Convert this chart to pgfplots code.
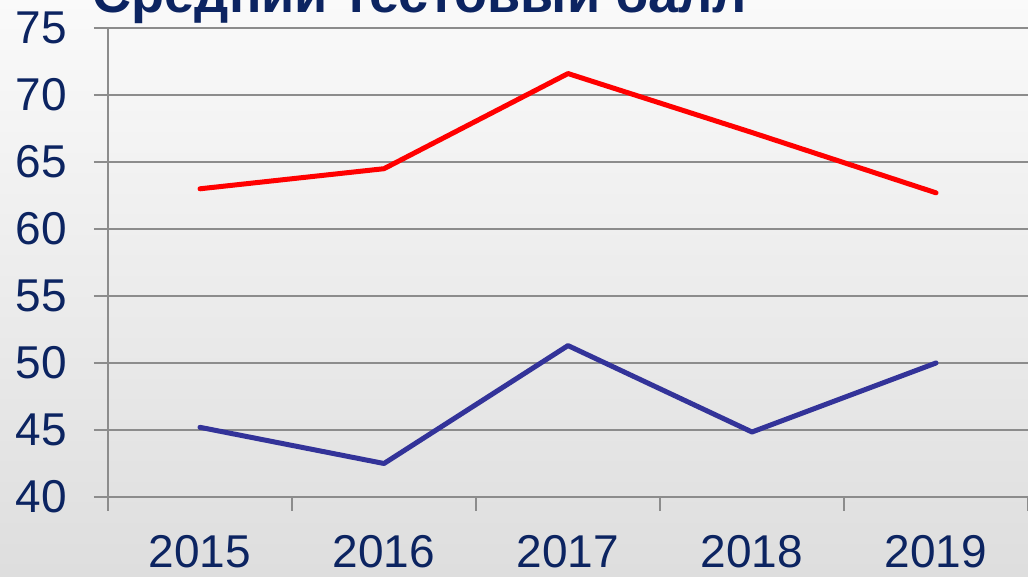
\documentclass[border=0pt]{standalone}
\usepackage{fontspec}
\setmainfont{Liberation Sans}
\usepackage{pgfplots}
\pgfplotsset{compat=1.18}
\definecolor{navy}{RGB}{12,36,97}
\definecolor{redl}{RGB}{255,0,0}
\definecolor{bluel}{RGB}{51,51,153}
\definecolor{gridg}{RGB}{140,140,140}
\begin{document}
\begin{tikzpicture}
\shade[top color=white!98!black, bottom color=black!13] (-54pt,-40pt) rectangle (460pt,248.5pt);
\begin{axis}[at={(0,0)},anchor=south west, scale only axis, width=460pt, height=234.5pt,
  xmin=0, xmax=5, ymin=40, ymax=75,
  axis lines=left, axis line style={-, draw=gridg, line width=1pt},
  xtick={0,1,2,3,4,5}, xticklabels={},
  extra x ticks={0.5,1.5,2.5,3.5,4.5},
  extra x tick labels={2015,2016,2017,2018,2019},
  extra x tick style={major tick length=0pt, xticklabel style={yshift=-15.5pt}},
  ytick={40,45,...,75},
  yticklabel style={xshift=-10pt},
  tick align=outside, major tick length=7pt,
  tick style={draw=gridg, line width=1pt},
  ymajorgrids, grid style={draw=gridg, line width=1pt},
  tick label style={font=\fontsize{23}{23}\selectfont, text=navy},
  /pgf/number format/assume math mode=true,
  clip=false,
]
\addplot[redl, line width=2.5pt, line join=round, line cap=round] coordinates {(0.5,63.0) (1.5,64.5) (2.5,71.6) (3.5,67.2) (4.5,62.7)};
\addplot[bluel, line width=2.5pt, line join=round, line cap=round] coordinates {(0.5,45.2) (1.5,42.5) (2.5,51.3) (3.5,44.85) (4.5,50.0)};
\end{axis}
\node[anchor=base, font=\fontsize{27}{27}\selectfont\bfseries, text=navy] at (156pt,242pt) {Средний тестовый балл};
\pgfresetboundingbox
\useasboundingbox (-54pt,-40pt) rectangle (460pt,248.5pt);
\end{tikzpicture}
\end{document}
